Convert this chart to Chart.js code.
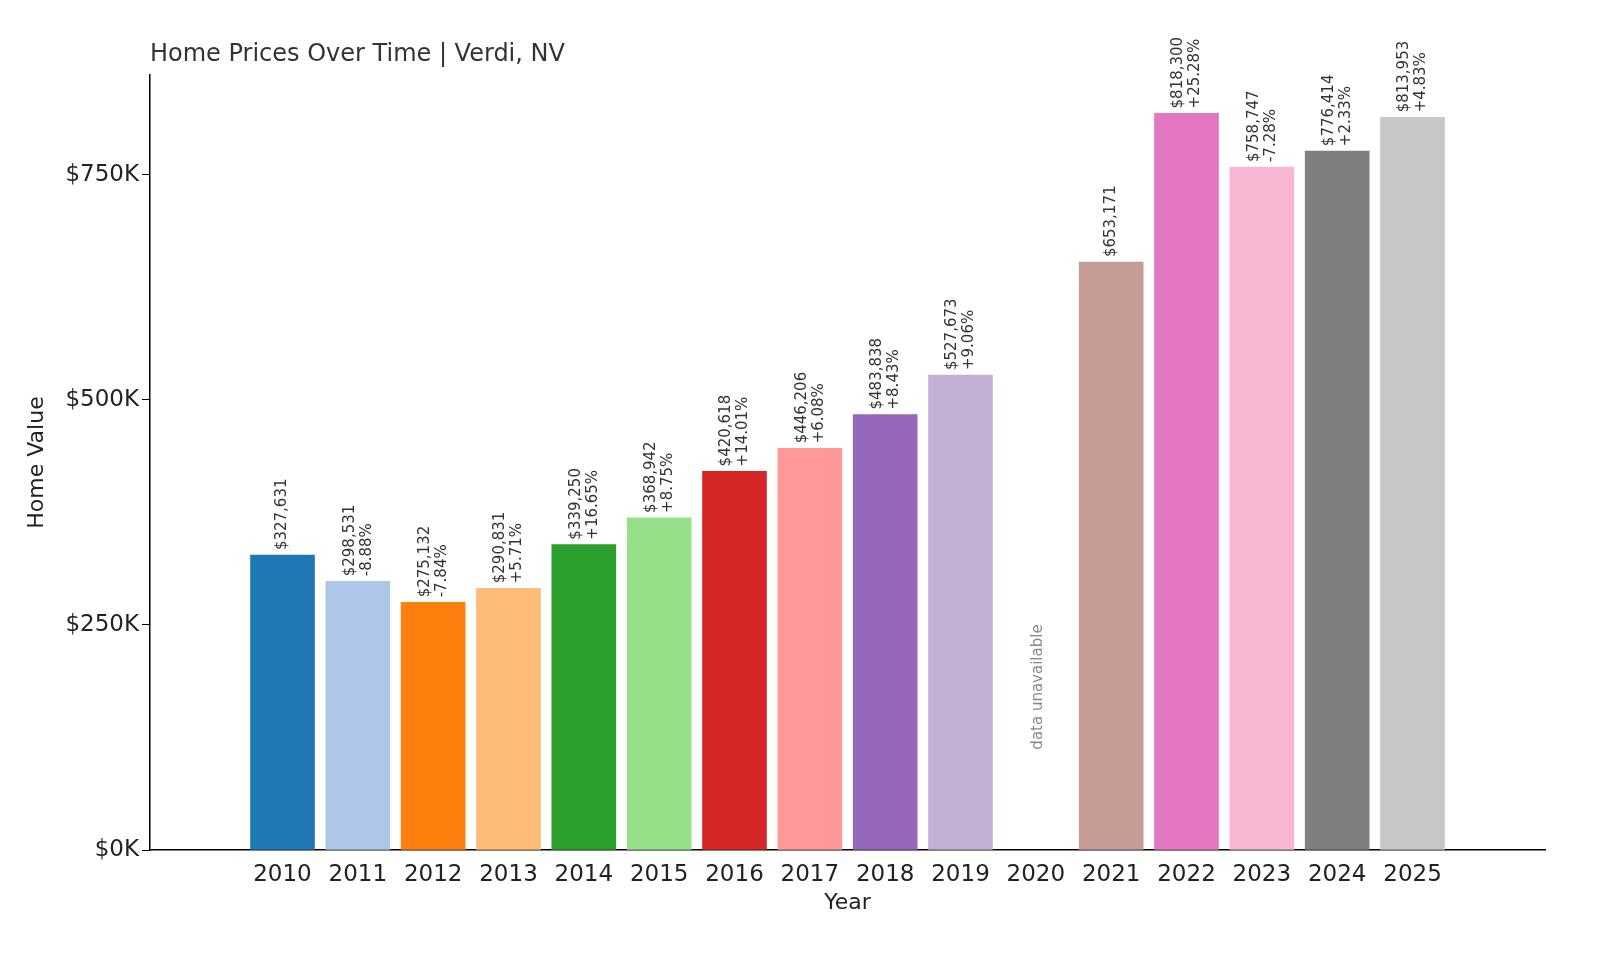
<!DOCTYPE html>
<html>
<head>
<meta charset="utf-8">
<script src="https://cdn.jsdelivr.net/npm/chart.js@4"></script>
<style>
  html, body { margin: 0; padding: 0; background: #fff; }
  #wrap { width: 1600px; height: 960px; }
</style>
</head>
<body>
<div id="wrap"><canvas id="myChart"></canvas></div>
<script>
// chart data
const years = ["2010","2011","2012","2013","2014","2015","2016","2017","2018","2019","2020","2021","2022","2023","2024","2025"];
const values = [327631, 298531, 275132, 290831, 339250, 368942, 420618, 446206, 483838, 527673, null, 653171, 818300, 758747, 776414, 813953];
const changes = ["", "-8.88%", "-7.84%", "+5.71%", "+16.65%", "+8.75%", "+14.01%", "+6.08%", "+8.43%", "+9.06%", "", "", "+25.28%", "-7.28%", "+2.33%", "+4.83%"];
const colors = ["#1f77b4","#aec7e8","#ff7f0e","#ffbb78","#2ca02c","#98df8a","#d62728","#ff9896","#9467bd","#c5b0d5","#8c564b","#c49c94","#e377c2","#f7b6d2","#7f7f7f","#c7c7c7"];
const yTicks = [0, 250000, 500000, 750000];

const font = "DejaVu Sans";

// value labels, title and the gap note
const labelPlugin = {
  id: "labels",
  afterDatasetsDraw(chart) {
    const { ctx } = chart;
    const meta = chart.getDatasetMeta(0);
    ctx.save();
    ctx.fillStyle = "#333";
    ctx.font = "15px " + font;
    ctx.textAlign = "left";
    ctx.textBaseline = "middle";
    meta.data.forEach((bar, i) => {
      if (values[i] == null) return;
      const lines = ["$" + values[i].toLocaleString("en-US")];
      if (changes[i]) lines.push(changes[i]);
      const off = lines.length === 2 ? [-8, 9] : [0];
      lines.forEach((t, k) => {
        ctx.save();
        ctx.translate(bar.x + off[k], bar.y - 5);
        ctx.rotate(-Math.PI / 2);
        ctx.fillText(t, 0, 0);
        ctx.restore();
      });
    });
    // missing year
    const x2020 = chart.scales.x.getPixelForValue(10);
    ctx.save();
    ctx.fillStyle = "#888";
    ctx.font = "15px " + font;
    ctx.textAlign = "center";
    ctx.translate(x2020 + 2, 687);
    ctx.rotate(-Math.PI / 2);
    ctx.fillText("data unavailable", 0, 0);
    ctx.restore();
    // title
    ctx.fillStyle = "#333";
    ctx.font = "24px " + font;
    ctx.textAlign = "left";
    ctx.fillText("Home Prices Over Time | Verdi, NV", 150, 55);
    ctx.restore();
  }
};

const config = {
  type: "bar",
  data: {
    datasets: [{
      data: values.map((v, i) => ({ x: i, y: v })),
      backgroundColor: colors,
      barThickness: 64,
    }],
  },
  plugins: [labelPlugin],
  options: {
    responsive: true,
    maintainAspectRatio: false,
    animation: false,
    layout: { padding: { top: 75, right: 55, left: 20, bottom: 40 } },
    plugins: { legend: { display: false }, tooltip: { enabled: false } },
    scales: {
      x: {
        type: "linear",
        min: -1.18,
        max: 16.18,
        afterBuildTicks: (s) => { s.ticks = years.map((y, i) => ({ value: i })); },
        grid: { display: false },
        border: { display: true, color: "#000", width: 1.5 },
        ticks: { color: "#222", font: { family: font, size: 23 }, maxRotation: 0, autoSkip: false, callback: (v) => years[v] },
        title: { display: true, text: "Year", color: "#222", font: { family: font, size: 22 }, padding: { top: 2 } },
        afterFit: (s) => { s.height = 70; },
      },
      y: {
        min: 0,
        max: 861000,
        afterBuildTicks: (s) => { s.ticks = yTicks.map((v) => ({ value: v })); },
        grid: { drawOnChartArea: false, drawTicks: true, tickLength: 8, color: "#000" },
        border: { display: true, color: "#000", width: 1.5 },
        ticks: { color: "#222", font: { family: font, size: 23 }, callback: (v) => "$" + v / 1000 + "K" },
        title: { display: true, text: "Home Value", color: "#222", font: { family: font, size: 22 } },
        afterFit: (s) => { s.width = 130; },
      },
    },
  },
};

const myChart = new Chart(document.getElementById("myChart"), config);
</script>
</body>
</html>
